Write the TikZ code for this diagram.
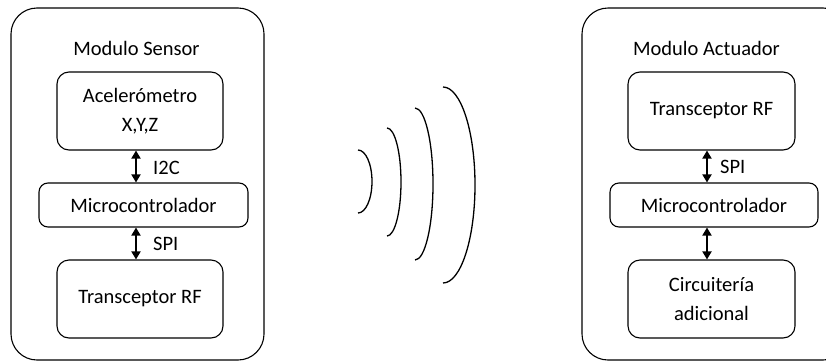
\documentclass[tikz,border=0pt]{standalone}
\usepackage{fontspec}
\setmainfont{Carlito}
\usetikzlibrary{arrows.meta}
\begin{document}
\begin{tikzpicture}[x=1pt,y=-1pt,
  outer/.style={draw,line width=1.1pt,rounded corners=26pt},
  blk/.style={draw,line width=1.1pt,rounded corners=12pt,align=center,inner sep=0pt,font=\fontsize{20.5}{29}\selectfont},
  mcb/.style={draw,line width=1.1pt,rounded corners=9pt,align=center,inner sep=0pt,font=\fontsize{20.5}{29}\selectfont},
  lbl/.style={font=\fontsize{20.5}{24}\selectfont,inner sep=0pt},
  biarr/.style={line width=1.8pt,{Triangle[length=8pt,width=9pt]}-{Triangle[length=8pt,width=9pt]}},
  wave/.style={line width=1.3pt}]
\useasboundingbox (0,0) rectangle (826,362);
\clip (0,0) rectangle (826,362);
% outer boxes
\draw[outer] (11,8) rectangle (264,360);
\draw[outer] (582,8) rectangle (849,360);
% left module
\node[lbl] (ts) at (136.5,48) {Modulo Sensor};
\node[blk,minimum width=166pt,minimum height=78pt] (acc) at (140,111) {Acelerómetro\\X,Y,Z};
\node[mcb,minimum width=209pt,minimum height=44pt] (mc) at (143.5,205) {Microcontrolador};
\node[blk,minimum width=166pt,minimum height=78pt] (tr) at (140,299) {Transceptor RF};
\draw[biarr] ([xshift=-4pt]acc.south) -- ([xshift=-4pt]acc.south |- mc.north);
\draw[biarr] ([xshift=-4pt]acc.south |- mc.south) -- ([xshift=-4pt]acc.south |- tr.north);
\node[lbl,anchor=west] (i2c) at (153,168) {I2C};
\node[lbl,anchor=west] (spi1) at (153,244) {SPI};
% right module
\node[lbl] (ta) at (706.5,48) {Modulo Actuador};
\node[blk,minimum width=167pt,minimum height=78pt] (tr2) at (711.5,111) {Transceptor RF};
\node[mcb,minimum width=208pt,minimum height=44pt] (mc2) at (714,205) {Microcontrolador};
\node[blk,minimum width=167pt,minimum height=78pt] (circ) at (711.5,299) {Circuitería\\adicional};
\draw[biarr] ([xshift=-4.5pt]tr2.south) -- ([xshift=-4.5pt]tr2.south |- mc2.north);
\draw[biarr] ([xshift=-4.5pt]tr2.south |- mc2.south) -- ([xshift=-4.5pt]tr2.south |- circ.north);
\node[lbl,anchor=west] (spi2) at (720,167) {SPI};
% waves
\draw[wave] (358,150) arc[start angle=90,end angle=-90,x radius=14pt,y radius=31.5pt];
\draw[wave] (387,128) arc[start angle=90,end angle=-90,x radius=14pt,y radius=54pt];
\draw[wave] (415,108) arc[start angle=90,end angle=-90,x radius=18pt,y radius=76pt];
\draw[wave] (443,87) arc[start angle=90,end angle=-90,x radius=32pt,y radius=98pt];
\end{tikzpicture}
\end{document}
